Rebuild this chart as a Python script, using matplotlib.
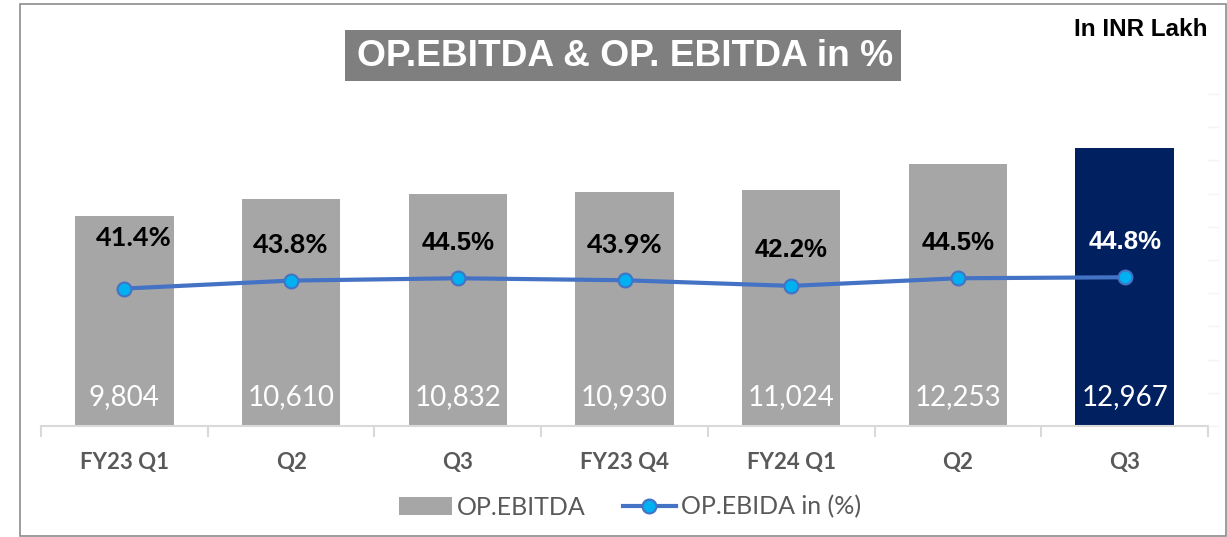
import matplotlib.pyplot as plt
from matplotlib.patches import Rectangle
from matplotlib.lines import Line2D
from matplotlib.patches import Patch

# Daten
quartale = ["FY23 Q1", "Q2", "Q3", "FY23 Q4", "FY24 Q1", "Q2", "Q3"]
op_ebitda = [9804, 10610, 10832, 10930, 11024, 12253, 12967]
op_ebitda_prozent = [41.4, 43.8, 44.5, 43.9, 42.2, 44.5, 44.8]

GRAU_BALKEN = "#A6A6A6"
NAVY = "#002060"
LINIE = "#4472C4"
MARKER = "#00B0F0"
TEXT_GRAU = "#595959"

fig = plt.figure(figsize=(12.27, 5.37), dpi=100)
W, H = 1227, 537

def px(x, y):
    """Pixel (von oben links) -> Figurkoordinaten."""
    return x / W, 1 - y / H

# Aussenrahmen
fig.patches.append(Rectangle(px(20, 536), 1206 / W, 532 / H, transform=fig.transFigure,
                             fill=False, edgecolor="#8C8C8C", linewidth=1.2))

links, unten = px(41, 426)
rechts, oben = px(1208, 94)
ax = fig.add_axes([links, unten, rechts - links, oben - unten])

x = list(range(len(quartale)))
farben = [GRAU_BALKEN] * (len(quartale) - 1) + [NAVY]
balken = ax.bar(x, op_ebitda, width=0.59, color=farben, zorder=2)

ax.set_xlim(-0.5, len(quartale) - 0.5)
ax.set_ylim(0, 15500)
for s in ["top", "right", "left"]:
    ax.spines[s].set_visible(False)
ax.spines["bottom"].set_color("#D9D9D9")
ax.spines["bottom"].set_linewidth(1.5)
ax.set_yticks([])
ax.set_xticks([i - 0.5 for i in range(len(quartale) + 1)])
ax.set_xticklabels([])
ax.tick_params(axis="x", which="major", length=8, color="#D9D9D9", width=1.5)
ax.set_xticks(x, minor=True)
ax.set_xticklabels(quartale, minor=True, fontfamily="Lato", fontweight="bold",
                   fontsize=16, color=TEXT_GRAU)
ax.tick_params(axis="x", which="minor", length=0, pad=19)

for xi, wert in zip(x, op_ebitda):
    ax.annotate(f"{wert:,}", (xi, 0), xytext=(0, 20.5), textcoords="offset points",
                ha="center", va="center", color="white", fontsize=20, fontfamily="Lato")

ax2 = ax.twinx()
ax2.set_ylim(0, 100)
for s in ["top", "right", "left", "bottom"]:
    ax2.spines[s].set_visible(False)
ax2.set_yticks(range(0, 101, 10))
ax2.set_yticklabels([])
ax2.tick_params(axis="y", length=8, color="#F4F4F4", width=1)
ax2.plot(x, op_ebitda_prozent, color=LINIE, linewidth=3, marker="o", markersize=10,
         markerfacecolor=MARKER, markeredgecolor=LINIE, markeredgewidth=1.5, zorder=3)

schriften = ["Lato", "Lato", "Liberation Sans", "Lato", "Liberation Sans", "Liberation Sans", "Liberation Sans"]
groessen = [19.5, 19.5, 18.5, 19.5, 18.5, 18.5, 18.5]
versatz = [(6.5, 36.7)] + [(0, 25.5)] * (len(quartale) - 1)
for i, (xi, p) in enumerate(zip(x, op_ebitda_prozent)):
    farbe = "white" if i == len(quartale) - 1 else "black"
    ax2.annotate(f"{p:.1f}%", (xi, p), xytext=versatz[i], textcoords="offset points",
                 ha="center", va="center", color=farbe, fontsize=groessen[i], fontweight="bold",
                 fontfamily=schriften[i])

# Titel mit grauem Kasten
fig.patches.append(Rectangle(px(345, 81), 556 / W, 51 / H, transform=fig.transFigure,
                             facecolor="#7F7F7F", edgecolor="none"))
fig.text(*px(625, 56), "OP.EBITDA & OP. EBITDA in %", ha="center", va="center",
         color="white", fontsize=26.7, fontweight="bold", fontfamily="Liberation Sans")
fig.text(*px(1207, 29), "In INR Lakh", ha="right", va="center", color="black",
         fontsize=17.5, fontweight="bold", fontfamily="Liberation Sans")

griffe = [Patch(facecolor=GRAU_BALKEN, edgecolor="none"),
          Line2D([], [], color=LINIE, linewidth=3, marker="o", markersize=10,
                 markerfacecolor=MARKER, markeredgecolor=LINIE, markeredgewidth=1.5)]
leg = fig.legend(griffe, ["OP.EBITDA", "OP.EBIDA in (%)"], loc="center", ncol=2,
                 bbox_to_anchor=px(630, 507), frameon=False,
                 prop={"family": "Lato", "size": 18}, labelcolor=TEXT_GRAU,
                 handlelength=2.1, handletextpad=0.2, columnspacing=1.5)

plt.savefig("out.png", dpi=100)
